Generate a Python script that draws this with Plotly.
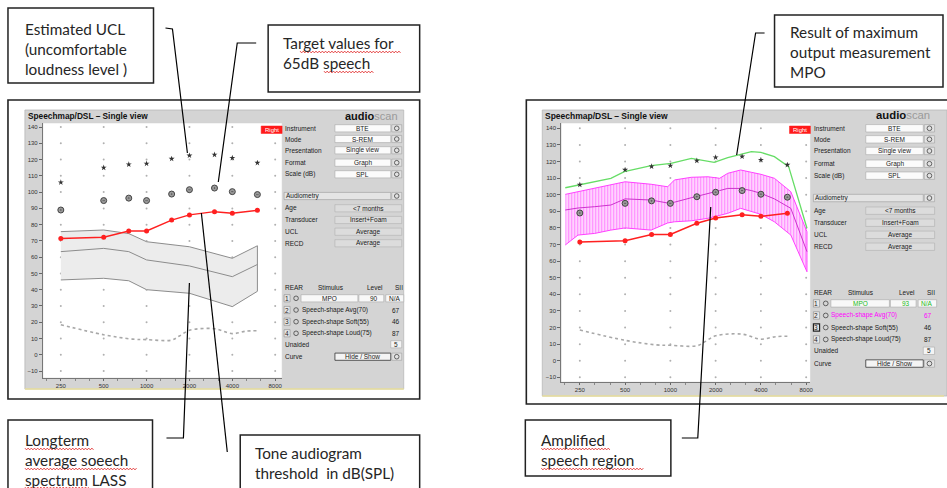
import plotly.graph_objects as go
import math

W, H = 947, 488

# ---------------- data ----------------
freq_pts = [250, 500, 750, 1000, 1500, 2000, 3000, 4000, 6000]
ucl_db = [106, 115, 117, 117.5, 120.5, 122.5, 123, 121, 118]
target_db = [89, 94.8, 96.3, 94.8, 98.8, 101.5, 102.5, 100.3, 98.5]
threshold_db = [71.5, 72.3, 76.1, 76.1, 82.8, 86, 88, 87, 88.8]

ltass_freq = [250, 500, 750, 1000, 2000, 4000, 6000]
ltass_upper = [75.7, 76.7, 74.5, 69.5, 66.4, 59.3, 67]
ltass_mid = [63.4, 65.4, 63.4, 58.3, 54.6, 48, 55.5]
ltass_lower = [46, 47, 45.5, 40, 37.8, 29.6, 39]

norm_freq = [250, 500, 800, 1000, 1500, 1700, 2000, 3000, 4000, 5000, 6000]
norm_db = [18.5, 12.3, 9.6, 9.3, 9.0, 11.5, 15, 16, 13, 14.5, 14.8]

mpo_freq = [200, 243, 314, 402, 494, 745, 1010, 1380, 1957, 2408, 2935, 3458, 4000, 4917, 6119, 8100]
mpo_db = [104.2, 105.8, 108.3, 109.9, 113.9, 117.5, 118.9, 121.9, 119.5, 122.3, 124.3, 125.9, 125.5, 122.9, 116.9, 79.8]

aided_freq = [200, 243, 314, 402, 500, 745, 960, 1065, 1380, 1779, 2128, 2408, 2935, 3458, 4000, 4917, 6326, 8100]
aided_upper = [100.2, 101.8, 104, 106.3, 107.8, 106.3, 104.8, 108.9, 110.5, 110.8, 109.9, 112.9, 114.9, 113.5, 112.3, 109.9, 101.8, 77.7]
aided_mid = [90.8, 92, 92.8, 93.8, 97.5, 96.8, 95, 95.5, 98.2, 100.5, 102.5, 103.8, 103.8, 102.5, 100.8, 97.5, 91.8, 65.7]
aided_lower = [69.7, 75.7, 76.7, 78.7, 80, 78.7, 83, 83.7, 84.3, 85.8, 87.5, 88.8, 91.8, 89.8, 88.2, 83.7, 75.7, 53.6]

x_ticks = [250, 500, 1000, 2000, 4000, 8000]
x_ticktext = ["250", "500", "1000", "2000", "4000", "8000"]
y_ticks = list(range(-10, 141, 10))

settings = [("Instrument", "BTE"), ("Mode", "S-REM"), ("Presentation", "Single view"),
            ("Format", "Graph"), ("Scale (dB)", "SPL")]
audiometry = [("Age", "&lt;7 months"), ("Transducer", "Insert+Foam"), ("UCL", "Average"), ("RECD", "Average")]
speech_rows = [("2", "Speech-shape Avg(70)", "67"), ("3", "Speech-shape Soft(55)", "46"),
               ("4", "Speech-shape Loud(75)", "87")]

# ---------------- helpers ----------------
def fx(x):
    return x / W

def fy(y):
    return 1 - y / H

shapes = []
annos = []
UI_FONT = "Liberation Sans, Arial, sans-serif"
CALL_FONT = "Lato, Open Sans, sans-serif"


def rect(x0, y0, x1, y1, fill="rgba(0,0,0,0)", line="#000", lw=1.0, layer="below"):
    shapes.append(dict(type="rect", xref="paper", yref="paper", x0=fx(x0), x1=fx(x1),
                       y0=fy(y1), y1=fy(y0), fillcolor=fill,
                       line=dict(color=line, width=lw), layer=layer))


def path(points, color="#000", lw=1.2, layer="above"):
    d = "M " + " L ".join(f"{fx(x):.5f},{fy(y):.5f}" for x, y in points)
    shapes.append(dict(type="path", xref="paper", yref="paper", path=d,
                       line=dict(color=color, width=lw), layer=layer))


def circle(cx, cy, r, color="#444"):
    shapes.append(dict(type="circle", xref="paper", yref="paper", x0=fx(cx - r), x1=fx(cx + r),
                       y0=fy(cy + r), y1=fy(cy - r), line=dict(color=color, width=0.8),
                       fillcolor="rgba(0,0,0,0)", layer="below"))


def text(x, y, s, size=6.5, color="#1a1a1a", anchor="left", family=UI_FONT):
    annos.append(dict(xref="paper", yref="paper", x=fx(x), y=fy(y), text=s, showarrow=False,
                      xanchor=anchor, yanchor="middle", borderpad=0, align="left",
                      font=dict(size=size, color=color, family=family)))


def squiggle(x0, x1, y):
    pts = []
    x = x0
    k = 0
    while x <= x1:
        pts.append((x, y + (0.9 if k % 2 else -0.9)))
        x += 1.6
        k += 1
    path(pts, color="#e02020", lw=0.8)


def button(x0, x1, yy, s):
    rect(x0, yy - 3.6 * s, x1, yy + 3.6 * s, fill="#e2e2e2", line="#a0a0a0", lw=0.6)
    circle((x0 + x1) / 2, yy, 2.3 * s)


def control_panel(lx, y0, s, right_variant):
    X = lambda o: lx + o * s
    Y = lambda o: y0 + o * s
    bh = 3.6 * s
    # logo
    text(X(60), Y(-12.8), "<b>audio</b><span style='color:#9a9a9a'>scan</span>", size=11 * s,
         color="#111", family="Liberation Sans, Arial, sans-serif")
    for (lab, val), oy in zip(settings, [0, 10.7, 22, 34.4, 46]):
        yy = Y(oy)
        text(X(0), yy, lab)
        rect(X(51), yy - bh, X(107), yy + bh, fill="#fbfbfb", line="#a8a8a8", lw=0.6)
        text((X(51) + X(107)) / 2, yy, val, anchor="center")
        button(X(108), X(118), yy, s)
    # audiometry bar
    yy = Y(67.7)
    rect(X(0), yy - bh, X(107), yy + bh, fill="#e4e4e4", line="#9a9a9a", lw=0.6)
    text(X(1), yy, "Audiometry")
    button(X(108), X(118), yy, s)
    for (lab, val), oy in zip(audiometry, [80, 91.7, 103.4, 115]):
        yy = Y(oy)
        text(X(0), yy, lab)
        rect(X(51), yy - bh, X(118), yy + bh, fill="#dcdcdc", line="#b0b0b0", lw=0.6)
        text((X(51) + X(118)) / 2, yy, val, anchor="center")
    # REAR header
    yy = Y(159.4)
    text(X(0), yy, "REAR")
    text(X(33), yy, "Stimulus")
    text(X(82), yy, "Level")
    text(X(110), yy, "SII")
    mpo_color = "#22bb22" if right_variant else "#1a1a1a"
    # row 1
    yy = Y(170)
    rect(X(0), yy - bh, X(6), yy + bh, fill="#e8e8e8", line="#888", lw=0.6)
    text(X(3), yy, "1", anchor="center")
    circle(X(12), yy, 2.3 * s)
    rect(X(17), yy - bh, X(74), yy + bh, fill="#f8f8f8", line="#a8a8a8", lw=0.6)
    text((X(17) + X(74)) / 2, yy, "MPO", anchor="center", color=mpo_color)
    rect(X(75), yy - bh, X(100), yy + bh, fill="#f8f8f8", line="#a8a8a8", lw=0.6)
    text((X(75) + X(100)) / 2 + 3, yy, "93" if right_variant else "90", anchor="center", color=mpo_color)
    rect(X(102), yy - bh, X(120), yy + bh, fill="#f8f8f8", line="#a8a8a8", lw=0.6)
    text((X(102) + X(120)) / 2, yy, "N/A", anchor="center", color=mpo_color)
    for (num, lab, lev), oy in zip(speech_rows, [181.7, 193.4, 205]):
        yy = Y(oy)
        sel = right_variant and num == "3"
        rect(X(0), yy - bh, X(6), yy + bh, fill="#e8e8e8", line="#222" if sel else "#888",
             lw=1.2 if sel else 0.6)
        text(X(3), yy, num, anchor="center")
        circle(X(12), yy, 2.3 * s)
        col = "#ff00ff" if (right_variant and num == "2") else "#1a1a1a"
        text(X(16.5), yy, lab, color=col)
        text(X(112), yy, lev, anchor="center", color=col)
    yy = Y(216)
    text(X(0), yy, "Unaided")
    rect(X(107), yy - bh, X(118), yy + bh, fill="#f4f4f4", line="#a8a8a8", lw=0.6)
    text((X(107) + X(118)) / 2, yy, "5", anchor="center")
    yy = Y(228.4)
    text(X(0), yy, "Curve")
    rect(X(51), yy - bh, X(107), yy + bh, fill="#f4f4f4", line="#333", lw=0.8)
    text((X(51) + X(107)) / 2, yy, "Hide / Show", anchor="center")
    button(X(108), X(118), yy, s)


# ---------------- static screenshot decoration ----------------
# left screenshot
rect(8, 100, 421, 399, fill="#ffffff", line="#222", lw=1.6)
rect(25, 110, 405, 389, fill="#d4d4d4", line="#b8b8b8", lw=0.8)
path([(25, 389), (405, 389)], color="#e8df9c", lw=1.5, layer="below")
rect(43, 123, 283, 378, fill="#ffffff", line="#d0d0d0", lw=0.5)
text(27, 116, "<b>Speechmap/DSL – Single view</b>", size=8.3, color="#111")
rect(262, 126, 283, 133.5, fill="#ff1a1a", line="#ff1a1a", lw=0.5, layer="above")
text(272.5, 129.8, "Right", size=6, color="#ffffff", anchor="center")
control_panel(285, 128.3, 1.0, False)

# right screenshot
rect(528, 100, 952, 404, fill="#ffffff", line="#222", lw=1.6)
rect(544, 110, 950, 396, fill="#d4d4d4", line="#b8b8b8", lw=0.8)
path([(544, 396), (947, 396)], color="#e8df9c", lw=1.5, layer="below")
rect(563, 123, 813, 382, fill="#ffffff", line="#d0d0d0", lw=0.5)
text(546, 116, "<b>Speechmap/DSL – Single view</b>", size=8.5, color="#111")
rect(792, 126, 813, 133.5, fill="#ff1a1a", line="#ff1a1a", lw=0.5, layer="above")
text(802.5, 129.8, "Right", size=6, color="#ffffff", anchor="center")
control_panel(816, 128.3, 1.03, True)

# ---------------- callouts ----------------
CALL_COL = "#262626"
CS = 15.3


def callout(x0, y0, x1, y1, tx, ty_first, lines):
    rect(x0, y0, x1, y1, fill="#ffffff", line="#222", lw=1.5, layer="above")
    n = len(lines)
    lh = CS * 1.3
    cy = ty_first + (n - 1) * lh / 2
    text(tx, cy, "<br>".join(lines), size=CS, color=CALL_COL, family=CALL_FONT)


callout(8, 8, 154, 83, 24, 29, ["Estimated UCL", "(uncomfortable", "loudness level )"])
callout(269, 25, 421, 92, 283, 43, ["Target values for", "65dB speech"])
callout(8, 420, 153, 500, 24, 440, ["Longterm", "average soeech", "spectrum LASS"])
callout(241, 435, 421, 500, 255, 453, ["Tone audiogram", "threshold  in dB(SPL)"])
callout(777, 15, 946, 87, 792, 32, ["Result of maximum", "output measurement", "MPO"])
callout(527, 420, 673, 476, 542, 440, ["Amplified", "speech region"])

squiggle(301, 402, 52)
squiggle(325, 376, 72)
squiggle(25, 94, 449)
squiggle(25, 138, 469)
squiggle(25, 90, 488)
squiggle(543, 613, 449)
squiggle(543, 646, 469)

# leader lines
path([(166, 28), (173, 29), (188, 153)])
path([(257, 43), (238, 43), (219, 182)])
path([(167, 438), (184, 438), (190, 283)])
path([(228, 452), (202, 213)])
path([(767, 33), (758, 33), (739, 155)])
path([(684, 438), (700, 438), (713, 207)])

# ---------------- traces ----------------
fig = go.Figure()


def dot_grid(xa, ya):
    gx, gy = [], []
    for xv in x_ticks:
        for yv in y_ticks:
            gx.append(xv)
            gy.append(yv)
    fig.add_trace(go.Scatter(x=gx, y=gy, mode="markers", xaxis=xa, yaxis=ya,
                             marker=dict(size=2, color="#b0b0b0"), hoverinfo="skip"))


def common_marks(xa, ya):
    fig.add_trace(go.Scatter(x=norm_freq, y=norm_db, mode="lines", xaxis=xa, yaxis=ya,
                             line=dict(color="#a8a8a8", width=1.6, dash="dot", shape="spline")))
    fig.add_trace(go.Scatter(x=freq_pts, y=threshold_db, mode="lines+markers", xaxis=xa, yaxis=ya,
                             line=dict(color="#ff2020", width=1.5),
                             marker=dict(symbol="circle", size=5, color="#ff2020")))
    fig.add_trace(go.Scatter(x=freq_pts, y=target_db, mode="markers", xaxis=xa, yaxis=ya,
                             marker=dict(symbol="circle-dot", size=6, color="#9a9a9a",
                                         line=dict(color="#444", width=1))))
    fig.add_trace(go.Scatter(x=freq_pts, y=ucl_db, mode="markers", xaxis=xa, yaxis=ya,
                             marker=dict(symbol="star", size=4.5, color="#333")))


# left
dot_grid("x", "y")
fig.add_trace(go.Scatter(x=ltass_freq + ltass_freq[::-1], y=ltass_upper + ltass_lower[::-1],
                         mode="lines", fill="toself", fillcolor="#ececec",
                         line=dict(color="#8c8c8c", width=1), xaxis="x", yaxis="y"))
fig.add_trace(go.Scatter(x=ltass_freq, y=ltass_mid, mode="lines",
                         line=dict(color="#8c8c8c", width=1), xaxis="x", yaxis="y"))
common_marks("x", "y")

# right
dot_grid("x2", "y2")
fig.add_trace(go.Scatter(x=aided_freq + aided_freq[::-1], y=aided_upper + aided_lower[::-1],
                         mode="lines", fill="toself", fillcolor="#ffd0ff",
                         fillpattern=dict(shape="|", fgcolor="#ff30ff", bgcolor="#ffe0ff",
                                          size=3, solidity=0.45),
                         line=dict(color="#ff40ff", width=1), xaxis="x2", yaxis="y2"))
fig.add_trace(go.Scatter(x=aided_freq, y=aided_mid, mode="lines",
                         line=dict(color="#cc33cc", width=1), xaxis="x2", yaxis="y2"))
fig.add_trace(go.Scatter(x=mpo_freq, y=mpo_db, mode="lines",
                         line=dict(color="#66dd66", width=1.3), xaxis="x2", yaxis="y2"))
common_marks("x2", "y2")

# ---------------- axes ----------------
minor_vals = [250 * 2 ** (k / 3) for k in range(-1, 17) if k % 3 != 0]
tickfont = dict(size=6, color="#333", family=UI_FONT)


def xaxis(dom, lo, hi, anchor):
    return dict(domain=[fx(dom[0]), fx(dom[1])], type="log", range=[math.log10(lo), math.log10(hi)],
                tickvals=x_ticks, ticktext=x_ticktext, tickfont=tickfont, ticks="outside",
                ticklen=2, tickcolor="#666", showline=True, linecolor="#777", linewidth=1,
                showgrid=False, zeroline=False, anchor=anchor, fixedrange=True,
                minor=dict(tickvals=minor_vals, ticks="outside", ticklen=2, tickcolor="#888",
                           showgrid=False))


def yaxis(top, bottom, lo, hi, anchor):
    return dict(domain=[fy(bottom), fy(top)], range=[lo, hi], tickvals=y_ticks, tickfont=tickfont,
                ticks="outside", ticklen=3, tickcolor="#666", showline=True, linecolor="#777",
                linewidth=1, showgrid=False, zeroline=False, anchor=anchor, fixedrange=True)


fig.update_layout(
    width=W, height=H, margin=dict(l=0, r=0, t=0, b=0),
    paper_bgcolor="#ffffff", plot_bgcolor="rgba(0,0,0,0)", showlegend=False,
    xaxis=xaxis((43, 283), 187, 8947, "y"),
    yaxis=yaxis(123, 378, -14.3, 142.5, "x"),
    xaxis2=xaxis((563, 813), 188, 8540, "y2"),
    yaxis2=yaxis(123, 382, -12.8, 143.2, "x2"),
    shapes=shapes, annotations=annos,
)

fig.write_html(
    "out.html",
    config={"displayModeBar": False},
    post_script="document.body.style.margin='0px';document.body.style.overflow='hidden';",
)
